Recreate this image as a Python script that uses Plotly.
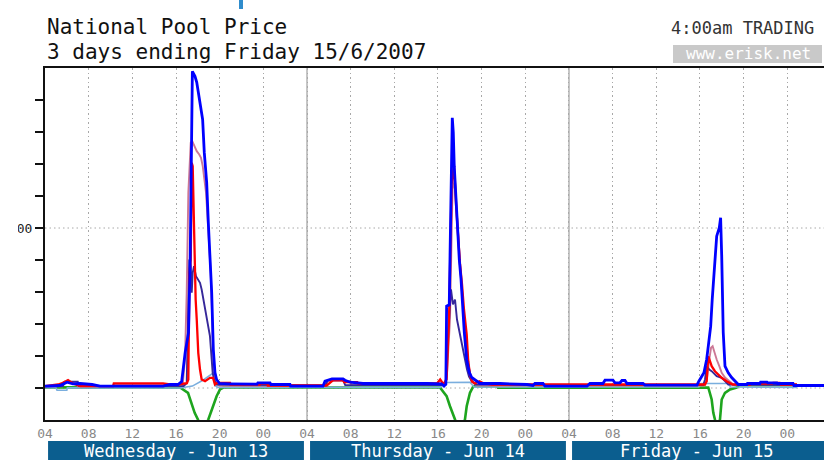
import plotly.graph_objects as go

# ---------------- data (hours after Wed 13 Jun 2007 04:00, price $/MWh) ----------------
TICK_HOURS = [0, 4, 8, 12, 16, 20, 24, 28, 32, 36, 40, 44, 48, 52, 56, 60, 64, 68]
TICK_LABELS = ["04", "08", "12", "16", "20", "00"] * 3
Y_TICKS = [0, 1000, 2000, 3000, 4000, 5000, 6000, 7000, 8000, 9000]
Y_TICK_LABELS = ["", "", "", "", "", "5000", "", "", "", ""]
DAY_LABELS = ["Wednesday - Jun 13", "Thursday - Jun 14", "Friday - Jun 15"]
DAY_STARTS = [0, 24, 48]
DAY_LABEL_POS = [12, 36, 59.7]

BLUE = [(0, 56), (1.37, 78), (2.02, 181), (2.56, 130), (3.21, 141), (4.31, 109), (5.04, 56), (10.81, 56),
        (11.45, 109), (12.18, 109), (12.52, 200), (12.84, 1110), (13.15, 1735), (13.30, 4017), (13.50, 9894),
        (13.74, 9738), (13.90, 9550), (14.04, 9238), (14.20, 8925), (14.44, 8393), (14.59, 7362), (14.81, 6424),
        (14.96, 5173), (15.11, 4236), (15.27, 2985), (15.42, 1203), (15.57, 485), (15.72, 266), (16.0, 141),
        (16.95, 130), (19.42, 120), (19.5, 163), (20.61, 163), (20.7, 109), (22.44, 109), (22.5, 56),
        (25.46, 56), (25.65, 213), (26.29, 288), (27.30, 288), (27.48, 244), (27.94, 181), (29.13, 141),
        (34.99, 141), (36.34, 125), (36.55, 60), (36.72, 120), (36.79, 2557), (37.03, 2600), (37.31, 8446),
        (37.40, 7987), (37.49, 6924), (37.65, 5892), (37.80, 4861), (37.95, 4017), (38.11, 3392), (38.26, 2548),
        (38.41, 1735), (38.63, 891), (38.87, 485), (39.09, 328), (39.54, 203), (39.85, 141), (41.68, 141),
        (44.15, 109), (44.70, 78), (44.88, 141), (45.62, 141), (45.80, 56), (49.65, 56), (49.92, 141),
        (51.11, 141), (51.30, 244), (52.03, 244), (52.21, 163), (52.67, 163), (52.85, 234), (53.13, 234),
        (53.31, 141), (54.78, 141), (54.96, 88), (59.72, 88), (59.90, 213), (60.36, 475), (60.61, 891),
        (60.76, 1307), (60.98, 1932), (61.12, 2766), (61.31, 3807), (61.53, 4745), (61.77, 5008), (61.89, 5320),
        (61.99, 4120), (62.08, 2766), (62.13, 1735), (62.29, 681), (62.59, 475), (62.90, 328), (63.20, 213),
        (63.51, 109), (64.30, 109), (64.35, 141), (65.49, 141), (65.55, 181), (66.14, 181), (66.2, 163),
        (67.05, 163), (67.1, 141), (68.52, 141), (68.6, 78), (71.5, 78)]

RED = [(0, 60), (1.19, 109), (1.65, 163), (2.11, 244), (2.56, 141), (3.21, 56), (6.23, 56), (6.3, 141),
       (10.81, 141), (11.45, 109), (12.18, 109), (13.0, 150), (13.13, 266), (13.22, 3495), (13.35, 4017),
       (13.44, 7040), (13.53, 6933), (13.58, 5892), (13.68, 4017), (13.80, 2766), (13.90, 2141), (14.04, 1100),
       (14.20, 578), (14.35, 266), (14.66, 214), (15.11, 318), (15.39, 318), (15.57, 110), (15.75, 163),
       (16.95, 163), (17.0, 109), (19.69, 109), (19.75, 141), (20.34, 141), (20.4, 78), (25.8, 78), (26.4, 244),
       (27.30, 244), (27.4, 181), (28.6, 181), (28.7, 141), (35.91, 141), (36.2, 266), (36.5, 120), (36.79, 266),
       (37.03, 2454), (37.25, 6361), (37.46, 6986), (37.65, 5736), (37.86, 4642), (38.02, 3860), (38.20, 3236),
       (38.38, 2454), (38.63, 1672), (38.77, 828), (38.93, 422), (39.11, 203), (39.39, 141), (39.8, 213),
       (40.2, 141), (41.0, 109), (60.46, 109), (60.61, 213), (60.76, 994), (60.85, 891), (61.07, 681),
       (61.37, 525), (61.68, 422), (61.99, 319), (62.44, 213), (62.75, 163), (63.0, 109), (64.6, 109),
       (64.7, 141), (66.6, 141), (66.7, 163), (67.3, 163), (67.4, 109), (68.88, 109)]

PINK = [(0, 50), (1.6, 50), (1.7, 190), (2.9, 190), (3.0, 50), (12.6, 60), (12.82, 891), (12.98, 2976),
        (13.13, 6102), (13.35, 7665), (13.49, 7715), (13.68, 7540), (13.90, 7402), (14.13, 7299), (14.29, 7196),
        (14.45, 6933), (14.59, 6518), (14.75, 6102), (14.90, 5267), (15.05, 4433), (15.18, 3601), (15.30, 2351),
        (15.42, 891), (15.57, 266), (15.73, 120), (16.0, 70), (25.65, 70), (25.9, 220), (27.94, 220), (28.1, 90),
        (36.6, 90), (36.82, 422), (37.10, 2141), (37.33, 6205), (37.56, 6518), (37.74, 5423), (37.92, 4329),
        (38.11, 3392), (38.29, 2610), (38.47, 1829), (38.66, 1203), (38.84, 641), (39.02, 328), (39.30, 141),
        (39.6, 80), (60.4, 80), (60.61, 213), (60.85, 891), (61.01, 1257), (61.16, 1307), (61.31, 1100),
        (61.53, 891), (61.77, 681), (61.99, 475), (62.29, 328), (62.68, 213), (63.05, 109), (68.88, 100)]

NAVY = [(0, 50), (1.65, 60), (1.8, 200), (3.0, 200), (3.1, 60), (12.7, 60), (12.98, 150), (13.13, 2976),
        (13.22, 4017), (13.35, 3807), (13.44, 2976), (13.53, 3601), (13.65, 3807), (13.83, 3495), (14.04, 3392),
        (14.20, 3289), (14.35, 3079), (14.50, 2766), (14.66, 2557), (14.81, 2244), (14.96, 1932), (15.11, 1619),
        (15.27, 891), (15.36, 475), (15.48, 266), (15.73, 109), (25.7, 80), (25.9, 250), (27.3, 250), (27.5, 90),
        (36.5, 90), (36.73, 109), (36.96, 1829), (37.19, 3079), (37.37, 2610), (37.56, 2766), (37.74, 2141),
        (37.92, 1829), (38.11, 1516), (38.29, 1203), (38.47, 828), (38.66, 578), (38.84, 359), (39.11, 203),
        (39.48, 109), (60.3, 90), (60.46, 266), (60.61, 681), (60.85, 578), (61.07, 525), (61.53, 369),
        (61.99, 319), (62.29, 213), (62.59, 109), (68.88, 90)]

LIGHTBLUE = [(0, 10), (1.0, 10), (1.1, -69), (2.0, -69), (2.05, 10), (12.37, 0), (13.5, 60), (14.5, 250),
             (15.42, 470), (15.55, 80), (15.85, 20), (36.18, 20), (36.64, 170), (38.93, 181), (39.30, 30),
             (59.9, 30), (60.1, 141), (62.6, 141), (62.8, 30), (68.88, 20)]

GREEN = [(0, 20), (12.37, 15), (13.10, -150), (13.41, -463), (13.71, -775), (14.01, -985), (14.47, -1400),
         (14.96, -985), (15.41, -569), (15.72, -256), (16.03, -47), (16.33, 15), (36.18, 15), (36.79, -256),
         (37.10, -569), (37.40, -882), (37.56, -985), (38.00, -1400), (38.47, -985), (38.63, -569),
         (38.93, -150), (39.24, 56), (41.4, 56), (41.5, 10), (60.76, 15), (61.07, -359), (61.22, -775),
         (61.37, -985), (61.60, -1500), (61.83, -985), (61.99, -359), (62.29, -150), (62.75, -47), (63.36, 15),
         (63.6, 90), (68.88, 90)]

SERIES = [
    ("green", GREEN, "#1ea51e", 2.6),
    ("light blue", LIGHTBLUE, "#7aaede", 1.6),
    ("rose", PINK, "#cc7896", 1.9),
    ("navy", NAVY, "#36289a", 1.9),
    ("red", RED, "#ff0000", 2.3),
    ("blue", BLUE, "#0000ff", 2.8),
]

X_MAX = 71.36
MONO = "DejaVu Sans Mono"

fig = go.Figure()
for name, pts, color, width in SERIES:
    fig.add_trace(go.Scatter(
        x=[p[0] for p in pts], y=[p[1] for p in pts], mode="lines", name=name,
        line=dict(color=color, width=width), hoverinfo="skip", showlegend=False))

shapes = []
# solid day boundary lines
for d in DAY_STARTS[1:]:
    shapes.append(dict(type="line", xref="x", yref="paper", x0=d, x1=d, y0=0, y1=1,
                       line=dict(color="#c6c6c6", width=2), layer="below"))
# dotted horizontal lines at 0 and 5000
for yv in (0, 5000):
    shapes.append(dict(type="line", xref="paper", yref="y", x0=0, x1=1, y0=yv, y1=yv,
                       line=dict(color="#a8a8a8", width=1, dash="1.5px,3px"), layer="below"))
# day label bars
for i, d in enumerate(DAY_STARTS):
    shapes.append(dict(type="rect", xref="x", yref="paper", x0=d + 0.28, x1=d + 23.72,
                       y0=-0.118, y1=-0.0597, fillcolor="#0b5e8f", line=dict(width=0), layer="above"))
# erisk box
shapes.append(dict(type="rect", xref="paper", yref="paper", x0=(673 - 45) / 779, x1=(822 - 45) / 779,
                   y0=(420 - 63) / 352, y1=(420 - 45) / 352, fillcolor="#c9c9c9", line=dict(width=0)))
# small blue marker at top
shapes.append(dict(type="rect", xref="paper", yref="paper", x0=194 / 779, x1=198 / 779,
                   y0=(420 - 9) / 352, y1=(420 + 2) / 352, fillcolor="#2f8ccc", line=dict(width=0)))
# crop of the y label (the original is cut at the left edge)
shapes.append(dict(type="rect", xref="paper", yref="paper", x0=-45 / 779, x1=(18 - 45) / 779,
                   y0=(420 - 242) / 352, y1=(420 - 214) / 352, fillcolor="white", line=dict(width=0),
                   layer="above"))

annotations = [
    dict(text="National Pool Price", xref="paper", yref="paper", x=0, y=(420 - 27) / 352,
         xanchor="left", yanchor="middle", showarrow=False, font=dict(family=MONO, size=21, color="#111")),
    dict(text="3 days ending Friday 15/6/2007", xref="paper", yref="paper", x=0, y=(420 - 52) / 352,
         xanchor="left", yanchor="middle", showarrow=False, font=dict(family=MONO, size=21, color="#111")),
    dict(text="4:00am TRADING", xref="paper", yref="paper", x=(816 - 45) / 779, y=(420 - 28) / 352,
         xanchor="right", yanchor="middle", showarrow=False, font=dict(family=MONO, size=17, color="#333")),
    dict(text="www.erisk.net", xref="paper", yref="paper", x=(748 - 45) / 779, y=(420 - 54) / 352,
         xanchor="center", yanchor="middle", showarrow=False, font=dict(family=MONO, size=16, color="white")),
]
for lab, pos in zip(DAY_LABELS, DAY_LABEL_POS):
    annotations.append(dict(text=lab, xref="x", yref="paper", x=pos, y=(420 - 451) / 352,
                            xanchor="center", yanchor="middle", showarrow=False,
                            font=dict(family=MONO, size=17, color="white")))

fig.update_layout(
    width=824, height=460,
    margin=dict(l=45, r=0, t=68, b=40),
    paper_bgcolor="white", plot_bgcolor="white",
    showlegend=False,
    shapes=shapes, annotations=annotations,
    xaxis=dict(range=[0, X_MAX], tickmode="array", tickvals=TICK_HOURS, ticktext=TICK_LABELS,
               showgrid=True, gridcolor="#a8a8a8", gridwidth=1, griddash="1.5px,3px",
               showline=True, linecolor="#111", linewidth=2, mirror=True, ticks="",
               zeroline=False, tickfont=dict(family=MONO, size=13, color="#888")),
    yaxis=dict(range=[-1000, 10000], tickmode="array", tickvals=Y_TICKS, ticktext=Y_TICK_LABELS,
               ticks="outside", ticklen=8, tickwidth=2, tickcolor="#111", showgrid=False,
               zeroline=False, showline=True, linecolor="#111", linewidth=2,
               tickfont=dict(family=MONO, size=13, color="#222")),
)

fig.write_html("out.html", config={"displayModeBar": False},
               post_script="document.body.style.margin='0';document.body.style.overflow='hidden';")
